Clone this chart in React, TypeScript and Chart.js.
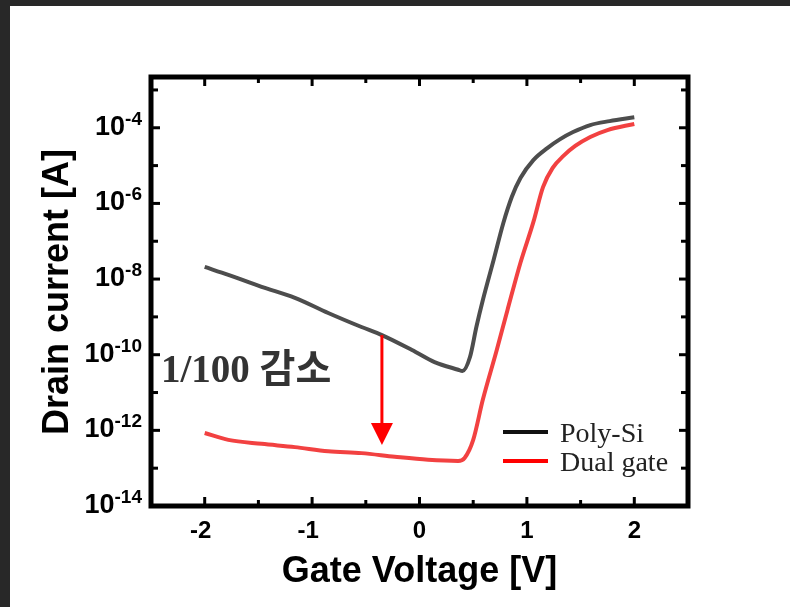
import { useEffect, useRef } from "react";
import { Chart, registerables } from "chart.js";

Chart.register(...registerables);

// ---- data ----
const seriesNames = ["Poly-Si", "Dual gate"];

const polySiVoltage = [-2.0, -1.78, -1.47, -1.16, -0.85, -0.54, -0.35, -0.07, 0.14, 0.36, 0.4, 0.47, 0.53, 0.59, 0.69, 0.78, 0.86, 0.94, 1.06, 1.19, 1.31, 1.43, 1.59, 1.77, 2.0];
const polySiCurrent = [2.1e-8, 1.29e-8, 6.2e-9, 3.2e-9, 1.27e-9, 5.4e-10, 3.3e-10, 1.33e-10, 6.4e-11, 4.0e-11, 3.7e-11, 8.7e-11, 5.5e-10, 2.8e-9, 3.2e-8, 3.0e-7, 1.5e-6, 4.7e-6, 1.4e-5, 2.9e-5, 5.0e-5, 7.7e-5, 1.18e-4, 1.5e-4, 1.9e-4];

const dualGateVoltage = [-2.0, -1.78, -1.47, -1.16, -0.85, -0.54, -0.23, 0.08, 0.36, 0.42, 0.5, 0.59, 0.72, 0.82, 0.94, 1.06, 1.15, 1.24, 1.34, 1.45, 1.59, 1.75, 2.0];
const dualGateCurrent = [8.5e-13, 5.6e-13, 4.4e-13, 3.6e-13, 2.8e-13, 2.5e-13, 2.0e-13, 1.66e-13, 1.55e-13, 1.86e-13, 5.6e-13, 6.5e-12, 1.35e-10, 1.55e-9, 2.7e-8, 3.2e-7, 2.7e-6, 8.7e-6, 1.8e-5, 3.3e-5, 5.7e-5, 8.7e-5, 1.26e-4];

const xMin = -2.5;
const xMax = 2.5;
const yMin = 1e-14;
const yMax = 2.2e-3;
const xTickValues = [-2, -1, 0, 1, 2];
const xMinorTickValues = [-1.5, -0.5, 0.5, 1.5];
const yTickExponents = [-4, -6, -8, -10, -12, -14];
const yMinorTickExponents = [-3, -5, -7, -9, -11, -13];

const xTitle = "Gate Voltage [V]";
const yTitle = "Drain current [A]";
const annotationText = "1/100 감소";
const arrowVoltage = -0.35;
const arrowFromCurrent = 3.3e-10;
const arrowToCurrent = 4.1e-13;

const SANS = '"Liberation Sans", Arial, sans-serif';
const SERIF = '"Liberation Serif", "Times New Roman", "Noto Sans CJK KR", serif';

const decoPlugin = {
  id: "deco",
  beforeDraw(chart: any) {
    const ctx = chart.ctx;
    ctx.save();
    ctx.fillStyle = "#ffffff";
    ctx.fillRect(0, 0, chart.width, chart.height);
    ctx.fillStyle = "#282828";
    ctx.fillRect(0, 0, chart.width, 6);
    ctx.fillRect(0, 0, 10, chart.height);
    ctx.restore();
  },
  afterDraw(chart: any) {
    const ctx = chart.ctx;
    const a = chart.chartArea;
    const x = chart.scales.x;
    const y = chart.scales.y;
    ctx.save();

    // arrow
    const ax = x.getPixelForValue(arrowVoltage);
    const ay0 = y.getPixelForValue(arrowFromCurrent);
    const ay1 = y.getPixelForValue(arrowToCurrent);
    ctx.strokeStyle = "#ff0000";
    ctx.fillStyle = "#ff0000";
    ctx.lineWidth = 3;
    ctx.beginPath();
    ctx.moveTo(ax, ay0);
    ctx.lineTo(ax, ay1 - 20);
    ctx.stroke();
    ctx.beginPath();
    ctx.moveTo(ax - 11, ay1 - 22);
    ctx.lineTo(ax + 11, ay1 - 22);
    ctx.lineTo(ax, ay1);
    ctx.closePath();
    ctx.fill();

    // annotation
    ctx.fillStyle = "#333333";
    ctx.font = `bold 39px ${SERIF}`;
    ctx.textAlign = "left";
    ctx.textBaseline = "alphabetic";
    ctx.fillText(annotationText, 161, 382);

    // legend
    const legendColors = ["#111111", "#ff0000"];
    const legendY = [432, 461];
    seriesNames.forEach((name, i) => {
      ctx.strokeStyle = legendColors[i];
      ctx.lineWidth = 4;
      ctx.beginPath();
      ctx.moveTo(503, legendY[i]);
      ctx.lineTo(548, legendY[i]);
      ctx.stroke();
      ctx.fillStyle = "#222222";
      ctx.font = `28px ${SERIF}`;
      ctx.fillText(name, 560, legendY[i] + 10);
    });

    // ticks (inward)
    ctx.fillStyle = "#000";
    xTickValues.forEach((v) => {
      const px = x.getPixelForValue(v);
      ctx.fillRect(px - 1.5, a.bottom - 9, 3, 9);
      ctx.fillRect(px - 1.5, a.top, 3, 9);
    });
    xMinorTickValues.forEach((v) => {
      const px = x.getPixelForValue(v);
      ctx.fillRect(px - 1.5, a.bottom - 6, 3, 6);
      ctx.fillRect(px - 1.5, a.top, 3, 6);
    });
    yTickExponents.forEach((e) => {
      const py = y.getPixelForValue(Math.pow(10, e));
      ctx.fillRect(a.left, py - 1.5, 9, 3);
      ctx.fillRect(a.right - 9, py - 1.5, 9, 3);
    });
    yMinorTickExponents.forEach((e) => {
      const py = y.getPixelForValue(Math.pow(10, e));
      ctx.fillRect(a.left, py - 1.5, 7, 3);
      ctx.fillRect(a.right - 7, py - 1.5, 7, 3);
    });

    // frame
    ctx.strokeStyle = "#000";
    ctx.lineWidth = 5;
    ctx.strokeRect(a.left, a.top, a.right - a.left, a.bottom - a.top);

    // x tick labels
    ctx.fillStyle = "#000";
    ctx.font = `bold 24px ${SANS}`;
    ctx.textBaseline = "middle";
    xTickValues.forEach((v) => {
      const px = x.getPixelForValue(v);
      const digits = String(Math.abs(v));
      const dw = ctx.measureText(digits).width;
      ctx.textAlign = "left";
      const sx = px - dw / 2;
      ctx.fillText(digits, sx, 531);
      if (v < 0) {
        ctx.textAlign = "right";
        ctx.fillText("-", sx, 531);
      }
    });

    // y tick labels with superscripts
    ctx.textBaseline = "alphabetic";
    ctx.textAlign = "left";
    yTickExponents.forEach((e) => {
      const py = y.getPixelForValue(Math.pow(10, e));
      const sup = String(e);
      ctx.font = `bold 19px ${SANS}`;
      const sw = ctx.measureText(sup).width;
      ctx.font = `bold 27px ${SANS}`;
      const bw = ctx.measureText("10").width;
      const right = 142;
      ctx.fillText("10", right - sw - bw, py + 7);
      ctx.font = `bold 19px ${SANS}`;
      ctx.fillText(sup, right - sw, py - 3);
    });

    // axis titles
    ctx.font = `bold 36px ${SANS}`;
    ctx.textAlign = "center";
    ctx.textBaseline = "alphabetic";
    ctx.fillText(xTitle, (a.left + a.right) / 2, 582);
    ctx.save();
    ctx.translate(68, 292);
    ctx.rotate(-Math.PI / 2);
    ctx.fillText(yTitle, 0, 0);
    ctx.restore();

    ctx.restore();
  },
};

export default function App() {
  const ref = useRef<HTMLCanvasElement>(null);
  useEffect(() => {
    document.body.style.margin = "0";
    const chart = new Chart(ref.current as HTMLCanvasElement, {
      type: "line",
      data: {
        datasets: [
          {
            label: seriesNames[0],
            data: polySiVoltage.map((v, i) => ({ x: v, y: polySiCurrent[i] })),
            borderColor: "#4d4d4d",
            borderWidth: 4,
            pointRadius: 0,
            cubicInterpolationMode: "monotone",
            fill: false,
          },
          {
            label: seriesNames[1],
            data: dualGateVoltage.map((v, i) => ({ x: v, y: dualGateCurrent[i] })),
            borderColor: "#f24141",
            borderWidth: 4,
            pointRadius: 0,
            cubicInterpolationMode: "monotone",
            fill: false,
          },
        ],
      },
      options: {
        animation: false,
        responsive: false,
        devicePixelRatio: 1,
        layout: { padding: { left: 151, top: 77, right: 102, bottom: 101 } },
        plugins: { legend: { display: false }, tooltip: { enabled: false } },
        scales: {
          x: { type: "linear", min: xMin, max: xMax, display: false },
          y: { type: "logarithmic", min: yMin, max: yMax, display: false },
        },
      },
      plugins: [decoPlugin],
    } as any);
    return () => chart.destroy();
  }, []);
  return (
    <div style={{ position: "absolute", left: 0, top: 0, width: 790, height: 607, background: "#fff" }}>
      <canvas ref={ref} width={790} height={607} style={{ display: "block", width: 790, height: 607 }} />
    </div>
  );
}
